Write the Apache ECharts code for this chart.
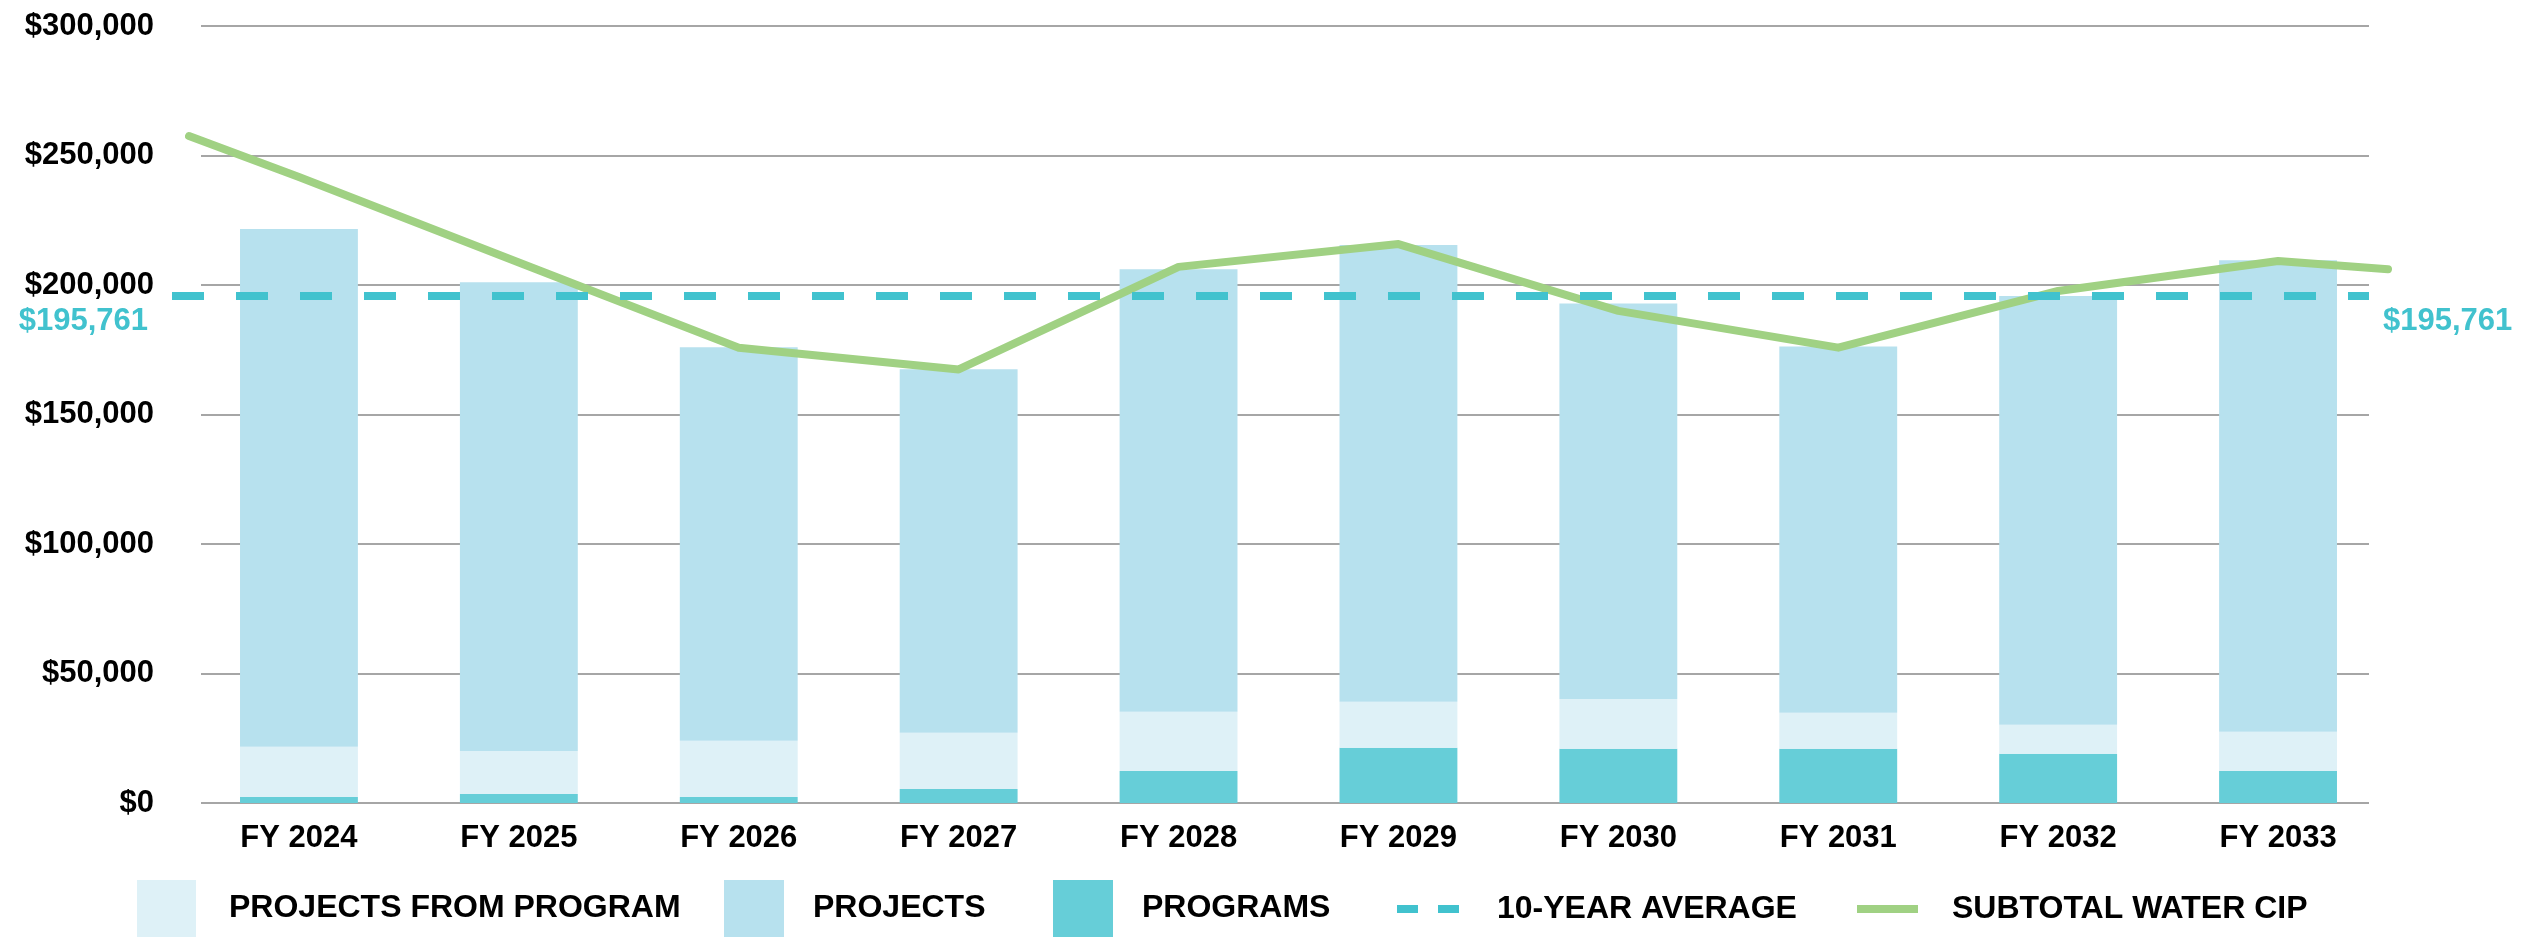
<!DOCTYPE html>
<html>
<head>
<meta charset="utf-8">
<script src="https://cdn.jsdelivr.net/npm/echarts@6/dist/echarts.min.js"></script>
<style>
html,body{margin:0;padding:0;background:#fff;}
#chart{width:2540px;height:937px;}
</style>
</head>
<body>
<div id="chart"></div>
<script>
// ---- data ----
const categories = ['FY 2024','FY 2025','FY 2026','FY 2027','FY 2028','FY 2029','FY 2030','FY 2031','FY 2032','FY 2033'];
const programs = [2300, 3500, 2300, 5400, 12400, 21300, 20900, 20900, 19000, 12400];
const projectsFromProgram = [19400, 16600, 21700, 21700, 22800, 17800, 19300, 13900, 11200, 15100];
const projects = [199900, 181000, 152000, 140400, 170900, 176300, 152700, 141500, 165600, 182100];
const subtotalYears = [2023.5, 2024, 2025, 2026, 2027, 2028, 2029, 2030, 2031, 2032, 2033, 2033.5];
const subtotalValues = [257500, 241700, 208700, 175800, 167400, 207000, 215800, 190000, 175800, 197700, 209300, 206100];
const tenYearAverage = 195761;
const averageSpan = ['start', 'end'];
const yMin = 0, yMax = 300000, yStep = 50000;

// ---- style ----
const FONT = 'Liberation Sans, Arial, sans-serif';
const C_PROJ = '#b7e1ee', C_PFP = '#def1f7', C_PROG = '#66ced8', C_AVG = '#41c2ce', C_LINE = '#a0d183';
const money = v => '$' + Math.round(v).toLocaleString('en-US');

const chart = echarts.init(document.getElementById('chart'), null, {renderer: 'canvas'});
const legendText = (pad) => ({fontFamily: FONT, fontWeight: 'bold', fontSize: 32, color: '#000', lineHeight: 32, padding: [0, 0, 0, pad]});

const option = {
  backgroundColor: '#fff',
  animation: false,
  grid: [
    {left: 201, right: 171, top: 26, bottom: 134},
    {left: 189, right: 152, top: 26, bottom: 134},
    {left: 172, right: 171, top: 26, bottom: 134}
  ],
  xAxis: [
    {gridIndex: 0, type: 'category', data: categories, show: false},
    {gridIndex: 1, type: 'category', data: categories,
      axisLine: {show: false}, axisTick: {show: false}, splitLine: {show: false},
      axisLabel: {fontFamily: FONT, fontWeight: 'bold', fontSize: 31, color: '#000', margin: 20}},
    {gridIndex: 1, type: 'value', min: subtotalYears[0], max: subtotalYears[subtotalYears.length - 1], show: false},
    {gridIndex: 2, type: 'category', data: averageSpan, boundaryGap: false, show: false}
  ],
  yAxis: [
    {gridIndex: 0, type: 'value', min: yMin, max: yMax, interval: yStep,
      axisLine: {show: false}, axisTick: {show: false},
      splitLine: {show: true, lineStyle: {color: '#a6a6a6', width: 2}},
      axisLabel: {fontFamily: FONT, fontWeight: 'bold', fontSize: 31, color: '#000', margin: 47, formatter: money}},
    {gridIndex: 1, type: 'value', min: yMin, max: yMax, interval: yStep, show: false},
    {gridIndex: 2, type: 'value', min: yMin, max: yMax, interval: yStep, show: false}
  ],
  legend: [
    {data: [{name: 'PROJECTS FROM PROGRAM', icon: 'rect'}], left: 137, top: 880, padding: 0, itemWidth: 59, itemHeight: 57, itemStyle: {borderWidth: 0}, textStyle: legendText(28), selectedMode: false},
    {data: [{name: 'PROJECTS', icon: 'rect'}], left: 724, top: 880, padding: 0, itemWidth: 60, itemHeight: 57, itemStyle: {borderWidth: 0}, textStyle: legendText(24), selectedMode: false},
    {data: [{name: 'PROGRAMS', icon: 'rect'}], left: 1053, top: 880, padding: 0, itemWidth: 60, itemHeight: 57, itemStyle: {borderWidth: 0}, textStyle: legendText(24), selectedMode: false},
    {data: [{name: '10-YEAR AVERAGE', icon: 'path://M0,0h21v8h-21zM41,0h21v8h-21z'}], left: 1397, top: 893, padding: 0, itemWidth: 62, itemHeight: 8, itemStyle: {borderWidth: 0}, textStyle: legendText(33), selectedMode: false},
    {data: [{name: 'SUBTOTAL WATER CIP', icon: 'rect'}], left: 1857, top: 893, padding: 0, itemWidth: 61, itemHeight: 8, itemStyle: {borderWidth: 0}, textStyle: legendText(29), selectedMode: false}
  ],
  series: [
    {name: 'PROGRAMS', type: 'bar', xAxisIndex: 1, yAxisIndex: 1, stack: 'cip', data: programs, barWidth: '53.6%', itemStyle: {color: C_PROG}, z: 2},
    {name: 'PROJECTS FROM PROGRAM', type: 'bar', xAxisIndex: 1, yAxisIndex: 1, stack: 'cip', data: projectsFromProgram, barWidth: '53.6%', itemStyle: {color: C_PFP}, z: 2},
    {name: 'PROJECTS', type: 'bar', xAxisIndex: 1, yAxisIndex: 1, stack: 'cip', data: projects, barWidth: '53.6%', itemStyle: {color: C_PROJ}, z: 2},
    {name: 'SUBTOTAL WATER CIP', type: 'line', xAxisIndex: 2, yAxisIndex: 1,
      data: subtotalYears.map((y, i) => [y, subtotalValues[i]]),
      symbol: 'none', color: C_LINE, itemStyle: {color: C_LINE},
      lineStyle: {color: C_LINE, width: 8, cap: 'round', join: 'round'}, z: 4},
    {name: '10-YEAR AVERAGE', type: 'line', xAxisIndex: 3, yAxisIndex: 2,
      data: averageSpan.map((s, i) => ({
        value: tenYearAverage,
        label: {show: true, position: i === 0 ? 'left' : 'right', distance: i === 0 ? 24 : 14, offset: [0, 25],
          formatter: () => money(tenYearAverage), fontFamily: FONT, fontWeight: 'bold', fontSize: 31, color: C_AVG}
      })),
      symbol: 'circle', symbolSize: 0, showSymbol: true, color: C_AVG, itemStyle: {color: C_AVG},
      lineStyle: {color: C_AVG, width: 8, type: [32, 32]}, z: 5}
  ]
};
chart.setOption(option);
</script>
</body>
</html>
